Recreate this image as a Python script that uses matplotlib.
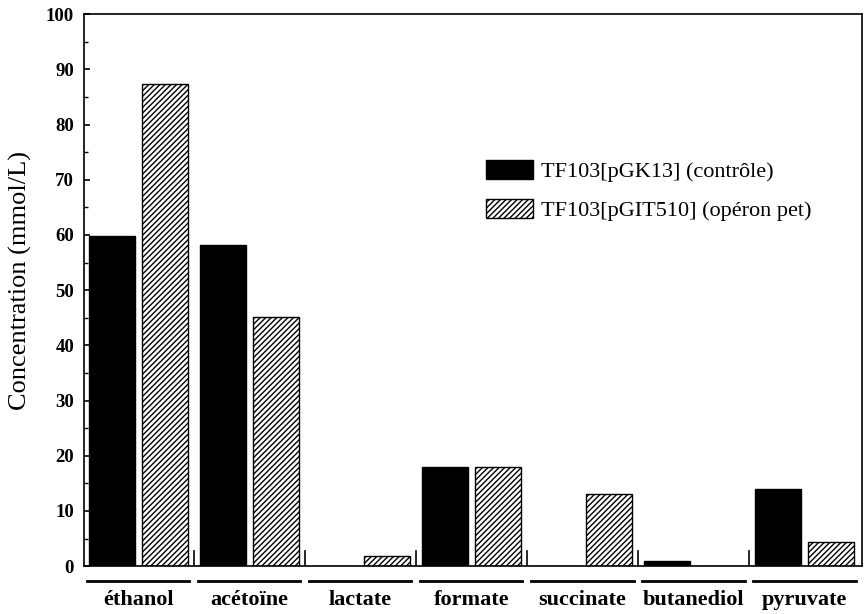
import numpy as np
import matplotlib
matplotlib.use('Agg')
import matplotlib.pyplot as plt
from matplotlib.ticker import MultipleLocator
import matplotlib.transforms as mtransforms

# data (mmol/L)
categories = ['éthanol', 'acétoïne', 'lactate', 'formate', 'succinate', 'butanediol', 'pyruvate']
controle = [59.8, 58.2, 0.0, 18.0, 0.0, 0.9, 14.0]
operon_pet = [87.3, 45.1, 1.8, 18.0, 13.0, 0.0, 4.3]
labels = ['TF103[pGK13] (contrôle)', 'TF103[pGIT510] (opéron pet)']

plt.rcParams['font.family'] = ['Liberation Serif', 'DejaVu Serif']
plt.rcParams['hatch.linewidth'] = 1.0

fig = plt.figure(figsize=(8.64, 6.14), dpi=100)
ax = fig.add_axes([0.097, 0.078, 0.901, 0.899])

x = np.arange(len(categories))
w = 0.414
off = 0.239
ax.bar(x - off, controle, width=w, color='black', edgecolor='black', linewidth=1, label=labels[0])
ax.bar(x + off, operon_pet, width=w, color='white', edgecolor='black', linewidth=1,
       hatch='//////', label=labels[1])

ax.set_xlim(-0.49, 6.52)
ax.set_ylim(0, 100)
ax.yaxis.set_major_locator(MultipleLocator(10))
ax.yaxis.set_minor_locator(MultipleLocator(5))
ax.tick_params(axis='y', which='major', direction='in', length=4, width=1.2,
               labelsize=13.5, pad=7)
ax.tick_params(axis='y', which='minor', direction='in', length=3, width=1.0)
for t in ax.get_yticklabels():
    t.set_fontweight('bold')
ax.set_xticks([])
ax.set_ylabel('Concentration (mmol/L)', fontsize=19)
ax.yaxis.set_label_coords(-0.066, 0.518)
for s in ax.spines.values():
    s.set_linewidth(1.2)

# small separators between groups
for i in range(len(categories) - 1):
    ax.plot([i + 0.5, i + 0.5], [0, 2.7], color='black', linewidth=1.2)

# underlines and category labels below the axis
trans = mtransforms.blended_transform_factory(ax.transData, ax.transAxes)
for i, name in enumerate(categories):
    ax.plot([i - 0.46, i + 0.46], [-0.027, -0.027], color='black', linewidth=2,
            transform=trans, clip_on=False)
    ax.text(i, -0.062, name, transform=trans, ha='center', va='center',
            fontsize=16, fontweight='bold')

ax.legend(loc='center left', bbox_to_anchor=(0.517, 0.68), frameon=False,
          fontsize=16, handlelength=2.1, handleheight=0.95, labelspacing=0.75,
          handletextpad=0.35, borderpad=0, borderaxespad=0)

fig.savefig('out.png', dpi=100)
